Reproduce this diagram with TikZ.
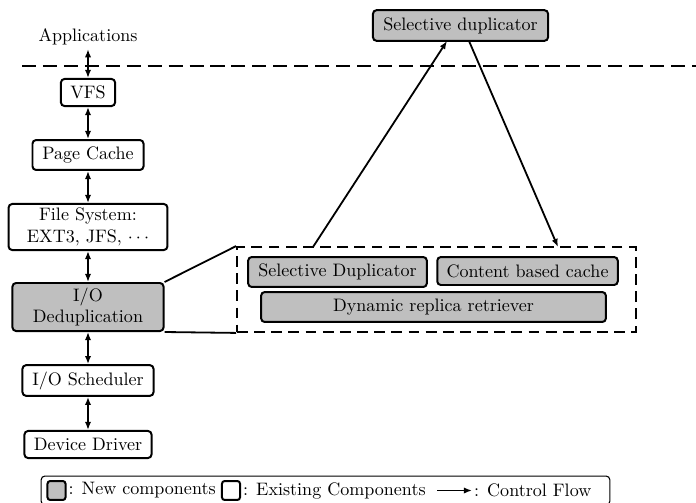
\documentclass[tikz,border=0pt]{standalone}
\usepackage{tikz}
\usetikzlibrary{arrows.meta}

\begin{document}
\begin{tikzpicture}[x=0.554pt, y=-0.554pt,
  every node/.style={rectangle, inner sep=2pt},
  comp/.style={draw, rounded corners=2pt, line width=1.1pt, inner xsep=4pt, align=center},
  newcomp/.style={comp, fill=black!25},
  flow/.style={line width=1.1pt, {Latex[length=4.5pt,width=3.5pt]}-{Latex[length=4.5pt,width=3.5pt]}},
  ctrl/.style={line width=1pt, -{Latex[length=4.5pt,width=3.5pt]}},
  swatch/.style={draw, rounded corners=1.5pt, line width=1.1pt, minimum width=10pt, minimum height=10.5pt, inner sep=0pt}]
\useasboundingbox (0,0) rectangle (696,502);
% Define all the nodes.
% Layer stack
\node (apps) at (88,37) {Applications};
\node[comp, minimum width=30pt, minimum height=15pt] (vfs) at (88,92.5) {VFS};
\node[comp, minimum width=61.5pt, minimum height=16.6pt] (pagecache) at (88,155) {Page Cache};
\node[comp, minimum width=88pt, minimum height=25.5pt, inner ysep=1pt] (filesys) at (88,227) {File System:\\ EXT3, JFS, $\cdots$};
\node[newcomp, minimum width=83.7pt, minimum height=26.6pt, inner ysep=1pt] (dedup) at (88,307) {I/O\\ Deduplication};
\node[comp, minimum width=72.6pt, minimum height=17pt] (sched) at (88,380.5) {I/O Scheduler};
\node[comp, minimum width=70.4pt, minimum height=15pt] (driver) at (88,444.5) {Device Driver};
% User space boundary
\coordinate (bound_l) at (22,66);
\coordinate (bound_r) at (696,66);
% Selective duplicator in user space
\node[newcomp, minimum width=97pt, minimum height=17pt] (topdup) at (460.5,25.5) {Selective duplicator};
% Zoomed dedup layer
\node[draw, dash pattern=on 6pt off 3.5pt, line width=1.1pt, minimum width=221pt, minimum height=47pt] (zoom) at (436.5,289.5) {};
\node[newcomp, minimum width=99pt, minimum height=16.6pt] (seldup) at (337.5,272) {Selective Duplicator};
\node[newcomp, minimum width=100pt, minimum height=15.5pt] (cache) at (527.5,271) {Content based cache};
\node[newcomp, minimum width=191pt, minimum height=16.6pt] (retriever) at (433.5,307) {Dynamic replica retriever};
% Control flow ends
\coordinate (up_from) at (313,247);
\coordinate (up_to) at (447,41);
\coordinate (down_from) at (469,41);
\coordinate (down_to) at (558,247);
% Legend
\node[draw, rounded corners=2pt, line width=0.6pt, minimum width=315pt, minimum height=16pt] (legend) at (325.5,490.5) {};
\node[swatch, fill=black!25] (key_new) at (56.5,490.5) {};
\node[anchor=west, inner sep=1pt] (txt_new) at (key_new.east) {: New components};
\node[swatch] (key_old) at (231,490.5) {};
\node[anchor=west, inner sep=1pt] (txt_old) at (key_old.east) {: Existing Components};
\coordinate (key_from) at (437,490.5);
\node[anchor=west, inner sep=1pt] (txt_flow) at (472,490.5) {: Control Flow};
% Draw the arrows
\draw[line width=1.1pt, dash pattern=on 7.8pt off 3.8pt] (bound_l) -- (bound_r);
\draw[flow] (apps) -- (vfs);
\draw[flow] (vfs) -- (pagecache);
\draw[flow] (pagecache) -- (filesys);
\draw[flow] (filesys) -- (dedup);
\draw[flow] (dedup) -- (sched);
\draw[flow] (sched) -- (driver);
\draw[line width=1pt] (dedup.north east) -- (zoom.north west);
\draw[line width=1pt] (dedup.south east) -- (zoom.south west);
\draw[ctrl] (up_from) -- (up_to);
\draw[ctrl] (down_from) -- (down_to);
\draw[ctrl] (key_from) -- (txt_flow.west);
\end{tikzpicture}
\end{document}
